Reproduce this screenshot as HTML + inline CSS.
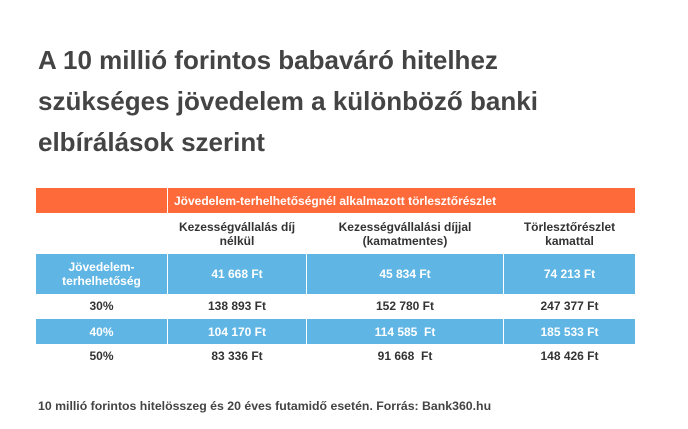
<!DOCTYPE html>
<html><head><meta charset="utf-8"><style>
body{margin:0;width:688px;height:429px;background:#fff;font-family:"Liberation Sans",sans-serif;position:relative;overflow:hidden}
.t{position:absolute;left:38px;top:40px;font-size:26px;font-weight:bold;color:#444;line-height:41px;width:640px}
.c{position:absolute;display:flex;align-items:center;justify-content:center;text-align:center;font-size:12px;font-weight:bold;color:#333;line-height:14px}
.o{background:#fe6a39;color:#fff;justify-content:flex-start;padding-left:6px;box-sizing:border-box}
.b{background:#5fb5e3;color:#fff}
.f{position:absolute;left:38px;top:399px;font-size:12.3px;font-weight:bold;color:#444}
</style></head><body>
<div class="t">A 10 millió forintos babaváró hitelhez<br>szükséges jövedelem a különböző banki<br>elbírálások szerint</div>
<div class="c o" style="left:36px;top:188px;width:131px;height:25px"></div>
<div class="c o" style="left:168px;top:188px;width:467px;height:25px">Jövedelem-terhelhetőségnél alkalmazott törlesztőrészlet</div>
<div class="c" style="left:168px;top:213px;width:138px;height:41px">Kezességvállalás díj<br>nélkül</div>
<div class="c" style="left:307px;top:213px;width:196px;height:41px">Kezességvállalási díjjal<br>(kamatmentes)</div>
<div class="c" style="left:504px;top:213px;width:131px;height:41px">Törlesztőrészlet<br>kamattal</div>
<div class="c b" style="left:36px;top:254px;width:131px;height:40px">Jövedelem-<br>terhelhetőség</div>
<div class="c b" style="left:168px;top:254px;width:138px;height:40px">41 668 Ft</div>
<div class="c b" style="left:307px;top:254px;width:196px;height:40px">45 834 Ft</div>
<div class="c b" style="left:504px;top:254px;width:131px;height:40px">74 213 Ft</div>
<div class="c" style="left:36px;top:294px;width:131px;height:24px">30%</div>
<div class="c" style="left:168px;top:294px;width:138px;height:24px">138 893 Ft</div>
<div class="c" style="left:307px;top:294px;width:196px;height:24px">152 780 Ft</div>
<div class="c" style="left:504px;top:294px;width:131px;height:24px">247 377 Ft</div>
<div class="c b" style="left:36px;top:319px;width:131px;height:25px">40%</div>
<div class="c b" style="left:168px;top:319px;width:138px;height:25px">104 170 Ft</div>
<div class="c b" style="left:307px;top:319px;width:196px;height:25px">114 585&nbsp; Ft</div>
<div class="c b" style="left:504px;top:319px;width:131px;height:25px">185 533 Ft</div>
<div class="c" style="left:36px;top:344px;width:131px;height:24px">50%</div>
<div class="c" style="left:168px;top:344px;width:138px;height:24px">83 336 Ft</div>
<div class="c" style="left:307px;top:344px;width:196px;height:24px">91 668&nbsp; Ft</div>
<div class="c" style="left:504px;top:344px;width:131px;height:24px">148 426 Ft</div>
<div class="f">10 millió forintos hitelösszeg és 20 éves futamidő esetén. Forrás: Bank360.hu</div>
</body></html>
